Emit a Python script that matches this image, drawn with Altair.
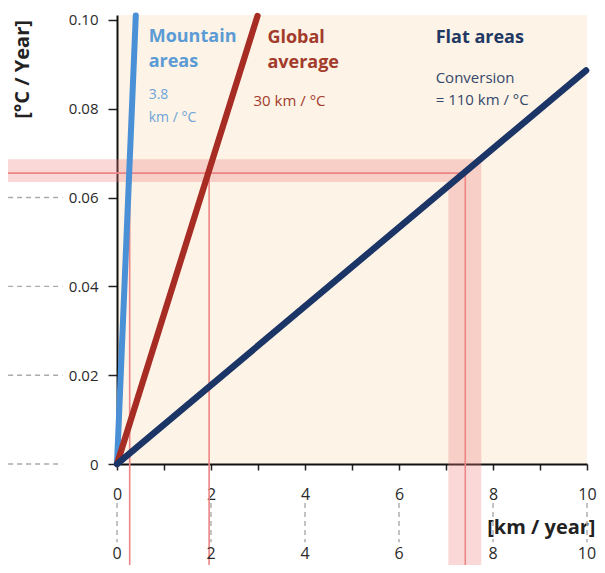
import altair as alt
import pandas as pd

# ---- data ----
series = ["Mountain areas", "Global average", "Flat areas"]
series_colors = ["#4a90d6", "#a62c24", "#1b3566"]
series_widths = [6, 6.5, 8]
mountain_x = [0, 0.40]
mountain_y = [0, 0.101]
global_x = [0, 2.99]
global_y = [0, 0.1009]
flat_x = [0, 9.98]
flat_y = [0, 0.0886]

x_ticks = [0, 1, 2, 3, 4, 5, 6, 7, 8, 9, 10]
x_label_values = [0, 2, 4, 6, 8, 10]
y_ticks = [0, 0.02, 0.04, 0.06, 0.08, 0.10]
left_dash_values = [0, 0.02, 0.04, 0.06]

# highlighted reading (red band) values
band_y = [0.0635, 0.0686]
band_line_y = 0.0655
band_x_end = 7.75
vband_x = [7.05, 7.75]
vline_x = [0.27, 1.96, 7.41]

# annotation texts
ann_text = ["Mountain", "areas", "3.8", "km / °C",
            "Global", "average", "30 km / °C",
            "Flat areas", "Conversion", "= 110 km / °C"]
ann_x = [0.674, 0.674, 0.674, 0.674, 3.2, 3.2, 2.905, 6.78, 6.78, 6.78]
ann_y = [0.0951, 0.0895, 0.0821, 0.0771, 0.0948, 0.0892, 0.0807, 0.0948, 0.0859, 0.0809]
ann_color = ["#5b9bd5", "#5b9bd5", "#6fa3d8", "#6fa3d8",
             "#a23b2b", "#a23b2b", "#a23b2b",
             "#1f3864", "#34486b", "#34486b"]
ann_size = [18, 18, 14, 14, 18, 18, 15, 18, 15, 15]
ann_weight = ["bold", "bold", "normal", "normal", "bold", "bold", "normal", "bold", "normal", "normal"]

FONT = "Open Sans"

xs = alt.Scale(domain=[0, 10], nice=False, zero=False)
ys = alt.Scale(domain=[0, 0.1011], nice=False, zero=False)

xaxis = alt.Axis(values=x_ticks, labelExpr="datum.value % 2 == 0 ? datum.label : ''",
                 grid=False, domainColor="#111", domainWidth=2, tickColor="#222",
                 tickWidth=1.5, tickSize=6, labelFontSize=16, labelColor="#2a2a2a",
                 labelPadding=16, labelFont=FONT, labelFlush=False, title="[km / year]",
                 titleFont=FONT, titleFontSize=20, titleFontWeight="bold",
                 titleColor="#222", titleAlign="right", titleBaseline="alphabetic",
                 titleX=478, titleY=69, titleAngle=0)
yaxis = alt.Axis(values=y_ticks,
                 labelExpr="datum.value == 0 ? '0' : format(datum.value, '.2f')",
                 grid=False, domainColor="#111", domainWidth=2, tickColor="#222",
                 tickWidth=1.5, tickSize=9, labelFontSize=15, labelColor="#2a2a2a",
                 labelPadding=10, labelFont=FONT, labelFlush=False, title="[°C / Year]",
                 titleFont=FONT, titleFontSize=20, titleFontWeight="bold",
                 titleColor="#222", titleAngle=270, titleAlign="center",
                 titleBaseline="middle", titleX=-95, titleY=54)

X = lambda f="x": alt.X(f + ":Q", scale=xs, axis=xaxis)
Y = lambda f="y": alt.Y(f + ":Q", scale=ys, axis=yaxis)

# bands
hband = pd.DataFrame({"x": [-2.7], "x2": [band_x_end], "y": [band_y[0]], "y2": [band_y[1]]})
vband = pd.DataFrame({"x": [vband_x[0]], "x2": [vband_x[1]], "y": [-0.03], "y2": [band_y[0]]})
bands = alt.Chart(pd.concat([hband, vband])).mark_rect(
    color="#f07f7f", opacity=0.3, clip=False
).encode(x=X(), x2="x2:Q", y=Y(), y2="y2:Q")

hline = pd.DataFrame({"x": [-2.7], "x2": [vline_x[2]], "y": [band_line_y], "y2": [band_line_y]})
vlines = pd.DataFrame({"x": vline_x, "x2": vline_x, "y": [-0.03] * 3, "y2": [band_line_y] * 3})
redlines = alt.Chart(pd.concat([hline, vlines])).mark_rule(
    color="#ec8585", strokeWidth=1.6, clip=False
).encode(x=X(), x2="x2:Q", y=Y(), y2="y2:Q")

# gray dashed guides
ldash = pd.DataFrame({"x": [-2.7] * len(left_dash_values), "x2": [-1.16] * len(left_dash_values),
                      "y": left_dash_values, "y2": left_dash_values})
bdash1 = pd.DataFrame({"x": x_label_values, "x2": x_label_values,
                       "y": [-0.0088] * 6, "y2": [-0.0176] * 6})
bdash2 = pd.DataFrame({"x": x_label_values, "x2": x_label_values,
                       "y": [-0.0228] * 6, "y2": [-0.03] * 6})
dashes = alt.Chart(pd.concat([ldash, bdash1, bdash2])).mark_rule(
    color="#aaaaaa", strokeWidth=1.4, strokeDash=[5, 4], clip=False
).encode(x=X(), x2="x2:Q", y=Y(), y2="y2:Q")

# second row of x labels
row2 = pd.DataFrame({"x": x_label_values, "y": [-0.0202] * 6, "t": [str(v) for v in x_label_values]})
row2_text = alt.Chart(row2).mark_text(
    font=FONT, fontSize=16, color="#2a2a2a", baseline="middle", align="center", clip=False
).encode(x=X(), y=Y(), text="t:N")

# data lines
lines_df = pd.DataFrame({
    "series": [series[0]] * 2 + [series[1]] * 2 + [series[2]] * 2,
    "x": mountain_x + global_x + flat_x,
    "y": mountain_y + global_y + flat_y,
})
lines = alt.Chart(lines_df).mark_line(strokeCap="round", clip=False).encode(
    x=X(), y=Y(),
    color=alt.Color("series:N", scale=alt.Scale(domain=series, range=series_colors), legend=None),
    strokeWidth=alt.StrokeWidth("series:N", scale=alt.Scale(domain=series, range=series_widths), legend=None),
    order=alt.Order("x:Q"),
)

ann = pd.DataFrame({"t": ann_text, "x": ann_x, "y": ann_y, "c": ann_color,
                    "s": ann_size, "w": ann_weight})
ann_bold = alt.Chart(ann[ann.w == "bold"]).mark_text(
    font=FONT, fontWeight="bold", align="left", baseline="alphabetic", clip=False
).encode(x=X(), y=Y(), text="t:N", color=alt.Color("c:N", scale=None),
         size=alt.Size("s:Q", scale=None))
ann_reg = alt.Chart(ann[ann.w == "normal"]).mark_text(
    font=FONT, align="left", baseline="alphabetic", clip=False
).encode(x=X(), y=Y(), text="t:N", color=alt.Color("c:N", scale=None),
         size=alt.Size("s:Q", scale=None))

chart = alt.layer(bands, redlines, dashes, row2_text, lines, ann_bold, ann_reg).properties(
    width=470, height=449,
    autosize=alt.AutoSizeParams(type="none"),
    padding={"left": 109, "top": 7, "right": 10, "bottom": 101},
    background="white",
).configure_view(stroke=None, fill="#fdf3e6")

chart.save("out.html", embed_options={"renderer": "svg", "actions": False})
